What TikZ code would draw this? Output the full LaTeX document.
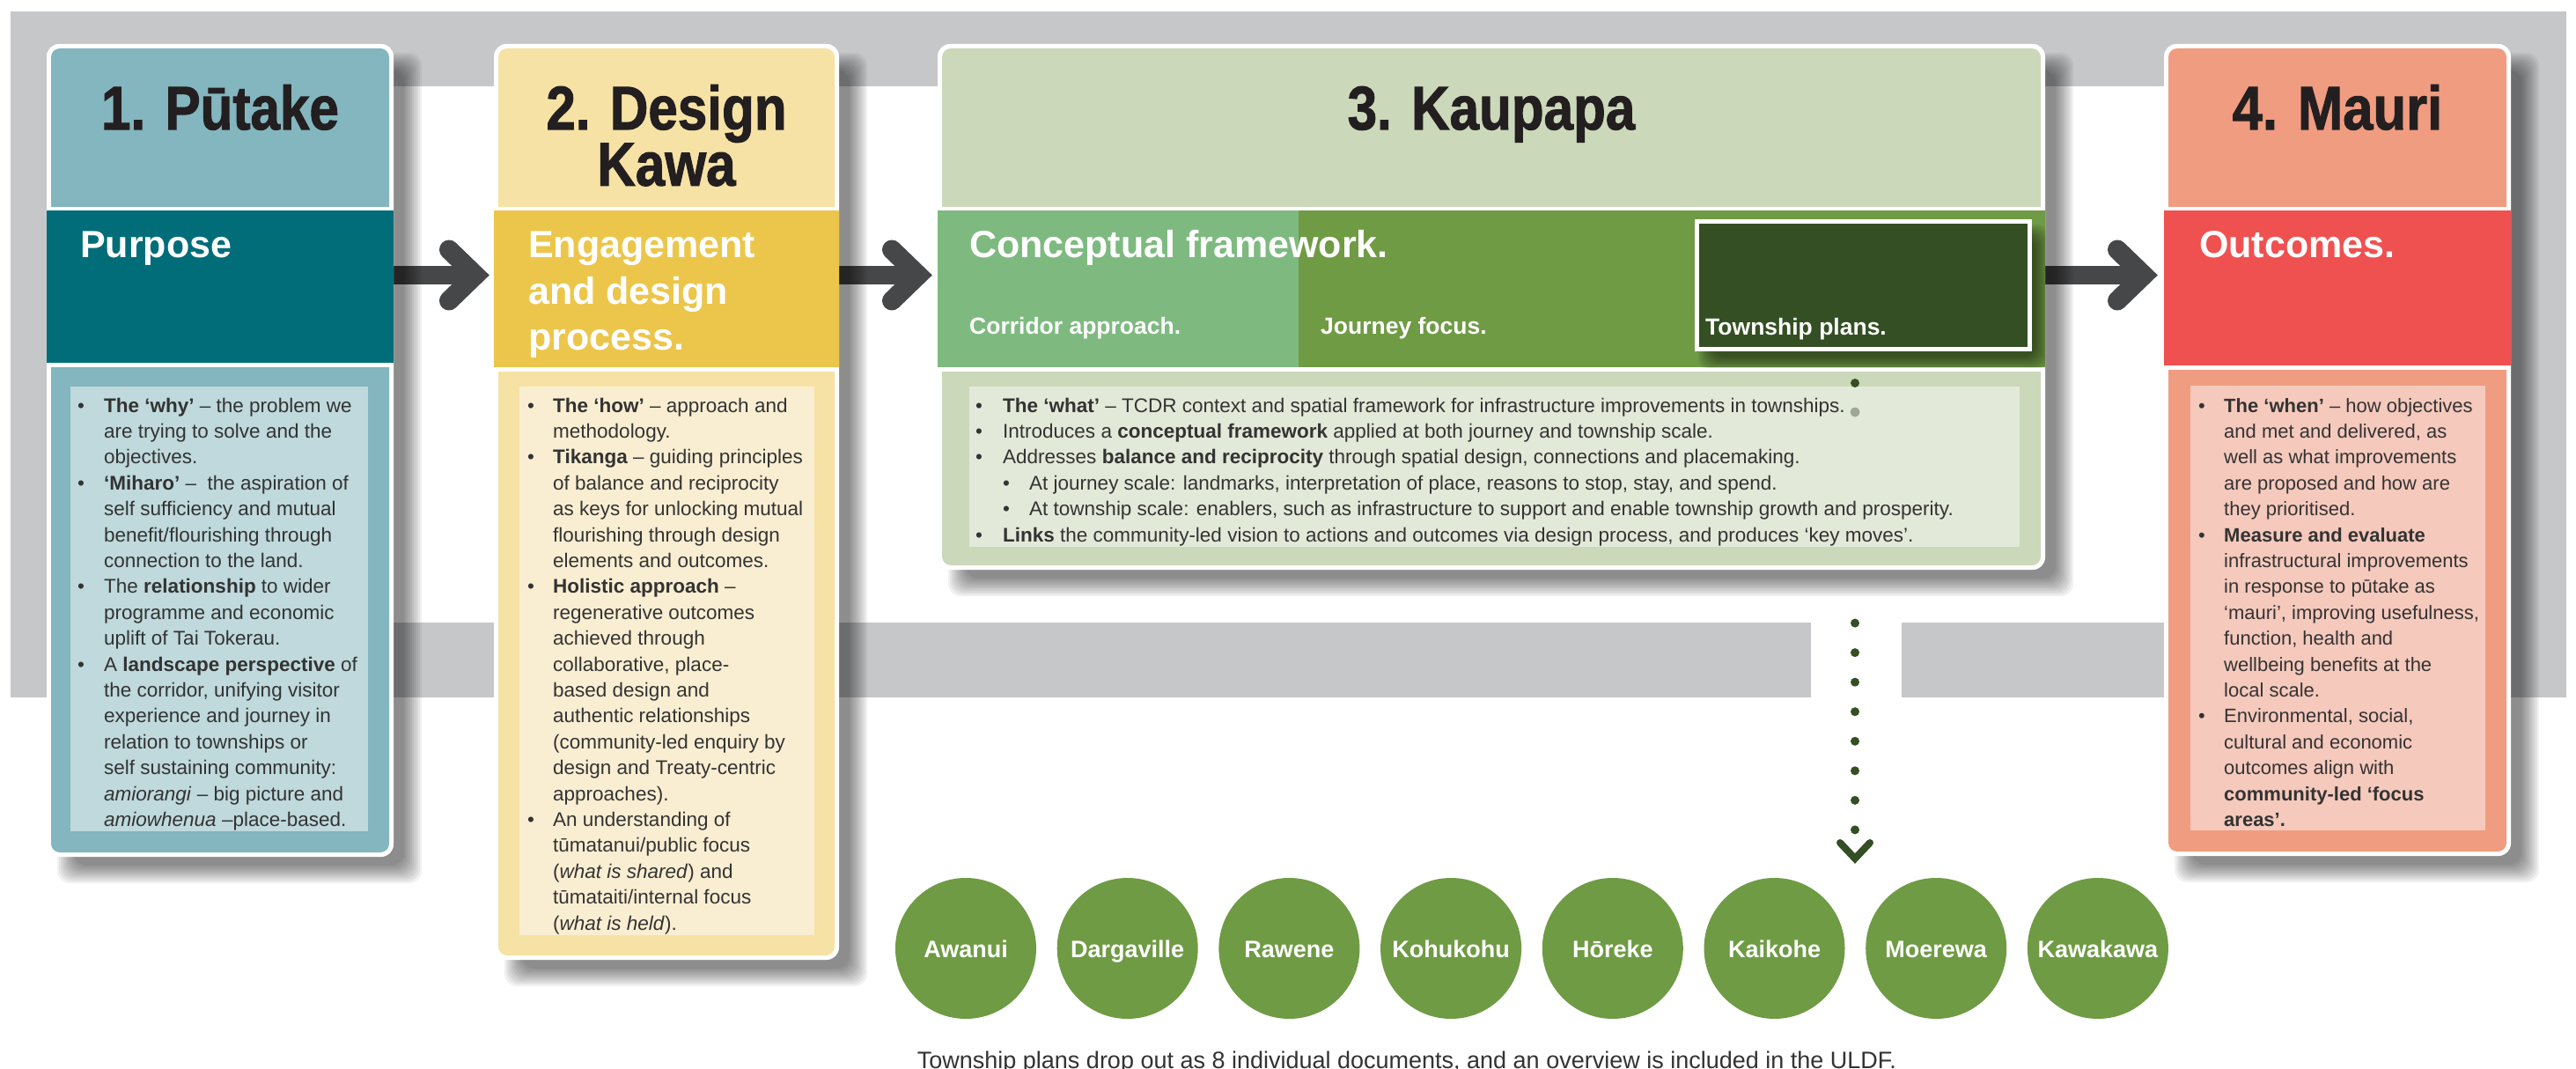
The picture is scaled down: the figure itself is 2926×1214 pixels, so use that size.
\documentclass[tikz,border=0pt]{standalone}
\usepackage{fontspec}
\setmainfont{Liberation Sans}
\newfontfamily\heavyfont[BoldFeatures={FakeBold=1.6}]{Liberation Sans}
\usepackage{graphicx}
\usetikzlibrary{calc}
\definecolor{bggray}{HTML}{C6C7C9}
\definecolor{tealhead}{HTML}{83B6BE}
\definecolor{tealband}{HTML}{006D79}
\definecolor{tealinner}{HTML}{BFD9DC}
\definecolor{yelhead}{HTML}{F6E2A4}
\definecolor{yelband}{HTML}{ECC64B}
\definecolor{yelinner}{HTML}{FAEED2}
\definecolor{grnhead}{HTML}{CBD8BA}
\definecolor{grnlight}{HTML}{7EBA80}
\definecolor{grnmid}{HTML}{6F9B44}
\definecolor{grndark}{HTML}{344F23}
\definecolor{grninner}{HTML}{E3E9D8}
\definecolor{redhead}{HTML}{F09C80}
\definecolor{redband}{HTML}{EF5150}
\definecolor{redinner}{HTML}{F5C9BC}
\definecolor{arrowgray}{HTML}{464749}
\definecolor{titleink}{HTML}{231F20}
\definecolor{bodyink}{HTML}{333333}
\definecolor{dotfaint}{HTML}{9DA894}

\newcommand\softshadow[6]{% x1 y1 x2 y2 blur opacity
  \foreach \k in {0,...,9}{%
    \fill[black,fill opacity=#6,rounded corners=14pt]
      ({#1-#5+0.2222*#5*\k},{#2-#5+0.2222*#5*\k}) rectangle
      ({#3+#5-0.2222*#5*\k},{#4+#5-0.2222*#5*\k});}}
\newcommand\phasebox[6]{% x1 x2 bandbottom bottom headcolour bandcolour
  \fill[white,rounded corners=14pt] (#1,50) rectangle (#2,#4);
  \fill[#5,rounded corners=10pt] (#1+5,55) rectangle (#2-5,280);
  \fill[#5,rounded corners=10pt] (#1+5,#3-40) rectangle (#2-5,#4-5);
  \fill[white] (#1,235) rectangle (#2,239);
  \fill[#6] (#1,239) rectangle (#2,#3);
  \fill[white] (#1,#3) rectangle (#2,#3+5);}
\newcommand\bodyset{\fontsize{22.5}{29.4}\selectfont\color{bodyink}}

\tikzset{
  shaft/.style={arrowgray,line width=21pt},
  chev/.style={arrowgray,line width=22pt,line cap=round,line join=miter},
  titlenode/.style={anchor=base,inner sep=0pt,text=titleink,font=\heavyfont\fontsize{70}{52}\selectfont\bfseries},
  bandlbl/.style={anchor=base west,inner sep=0pt,text=white,font=\fontsize{43}{52.5}\selectfont\bfseries},
  smalllbl/.style={anchor=base west,inner sep=0pt,text=white,font=\fontsize{26.5}{30}\selectfont\bfseries},
  bodynode/.style={anchor=base west,inner sep=0pt},
  town/.style={circle,fill=grnmid,minimum size=160pt,inner sep=0pt,text height=20pt,text depth=0pt,text=white,font=\fontsize{27}{30}\selectfont\bfseries},
  dotline/.style={grndark,line width=10pt,line cap=round,dash pattern=on 0pt off 33.54pt},
}

\begin{document}
\begin{tikzpicture}[x={(1pt,0)},y={(0,-1pt)}]
\useasboundingbox (0,0) rectangle (2926,1214);
\fill[white] (0,0) rectangle (2926,1214);
% grey frame
\fill[bggray] (12,13) rectangle (2915,792);
\fill[white] (53,98) rectangle (2852,707);
\fill[white] (2057,700) rectangle (2160,795);

% arrows
\coordinate (b1r) at (447,312.5); \coordinate (a1) at (540,312.5);
\coordinate (b2r) at (953,312.5); \coordinate (a2) at (1043,312.5);
\coordinate (b3r) at (2323,312.5); \coordinate (a3) at (2435,312.5);
\foreach \s/\t in {b1r/a1,b2r/a2,b3r/a3}{
  \draw[shaft] (\s) -- (\t);
  \draw[chev] ($(\t)+(-30,-29)$) -- (\t) -- ($(\t)+(-30,29)$);
}

% shadows
\softshadow{75}{70}{469}{993}{10}{0.055}
\softshadow{583}{70}{975}{1110}{10}{0.055}
\softshadow{1087}{70}{2345}{667}{10}{0.055}
\softshadow{2480}{70}{2874}{992}{10}{0.055}

% boxes
\phasebox{53}{447}{412}{973}{tealhead}{tealband}
\phasebox{561}{953}{417}{1090}{yelhead}{yelband}
\phasebox{1065}{2323}{417}{647}{grnhead}{grnmid}
\phasebox{2458}{2852}{415}{972}{redhead}{redband}
\fill[grnlight] (1065,239) rectangle (1475,417);

% township plans box
\begin{scope}
  \clip (1065,239) rectangle (2323,417);
  \softshadow{1937}{263}{2320}{413}{8}{0.06}
\end{scope}
\fill[white] (1925,249) rectangle (2308,399);
\fill[grndark] (1930,254) rectangle (2303,394);

% inner panels
\fill[tealinner] (80,439) rectangle (418,944);
\fill[yelinner] (590,439) rectangle (925,1062);
\fill[grninner] (1101,439) rectangle (2294,621);
\fill[redinner] (2488,438) rectangle (2823,943);

% dots at top of connector
\coordinate (d0) at (2107,435);
\coordinate (d1) at (2107,468);
\fill[grndark] (d0) circle (5pt);
\fill[dotfaint] (d1) circle (5.5pt);

% titles
\node[titlenode] (t1) at (250,147) {\scalebox{0.86}[1]{1. Pūtake}};
\node[titlenode] (t2) at (757,147) {\scalebox{0.86}[1]{\begin{tabular}[t]{@{}c@{}}2. Design\\Kawa\end{tabular}}};
\node[titlenode] (t3) at (1694,147) {\scalebox{0.86}[1]{3. Kaupapa}};
\node[titlenode] (t4) at (2655,147) {\scalebox{0.88}[1]{4. Mauri}};

% band labels
\node[bandlbl] (l1) at (91,293) {Purpose};
\node[bandlbl] (l2) at (600,293) {\begin{tabular}[t]{@{}l@{}}Engagement\\and design\\process.\end{tabular}};
\node[bandlbl] (l3) at (1101,293) {Conceptual framework.};
\node[bandlbl] (l4) at (2498,293) {Outcomes.};
\node[smalllbl] (s1) at (1101,380) {Corridor approach.};
\node[smalllbl] (s2) at (1500,380) {Journey focus.};
\node[smalllbl] (s3) at (1937,381) {Township plans.};

% body texts
\node[bodynode] (x1) at (88,468) {\bodyset\begin{tabular}[t]{@{}p{30pt}@{}l@{}}
\textbullet & \textbf{The ‘why’} – the problem we\\
 & are trying to solve and the\\
 & objectives.\\
\textbullet & \textbf{‘Miharo’} –\ \ the aspiration of\\
 & self sufficiency and mutual\\
 & benefit/flourishing through\\
 & connection to the land.\\
\textbullet & The \textbf{relationship} to wider\\
 & programme and economic\\
 & uplift of Tai Tokerau.\\
\textbullet & A \textbf{landscape perspective} of\\
 & the corridor, unifying visitor\\
 & experience and journey in\\
 & relation to townships or\\
 & self sustaining community:\\
 & \textit{amiorangi} – big picture and\\
 & \textit{amiowhenua} –place-based.
\end{tabular}};

\node[bodynode] (x2) at (599,468) {\bodyset\begin{tabular}[t]{@{}p{29pt}@{}l@{}}
\textbullet & \textbf{The ‘how’} – approach and\\
 & methodology.\\
\textbullet & \textbf{Tikanga} – guiding principles\\
 & of balance and reciprocity\\
 & as keys for unlocking mutual\\
 & flourishing through design\\
 & elements and outcomes.\\
\textbullet & \textbf{Holistic approach} –\\
 & regenerative outcomes\\
 & achieved through\\
 & collaborative, place-\\
 & based design and\\
 & authentic relationships\\
 & (community-led enquiry by\\
 & design and Treaty-centric\\
 & approaches).\\
\textbullet & An understanding of\\
 & tūmatanui/public focus\\
 & (\textit{what is shared}) and\\
 & tūmataiti/internal focus\\
 & (\textit{what is held}).
\end{tabular}};

\node[bodynode] (x3) at (1108,468) {\bodyset\begin{tabular}[t]{@{}p{31pt}@{}p{30pt}@{}l@{}}
\textbullet & \multicolumn{2}{@{}l@{}}{\textbf{The ‘what’} – TCDR context and spatial framework for infrastructure improvements in townships.}\\
\textbullet & \multicolumn{2}{@{}l@{}}{Introduces a \textbf{conceptual framework} applied at both journey and township scale.}\\
\textbullet & \multicolumn{2}{@{}l@{}}{Addresses \textbf{balance and reciprocity} through spatial design, connections and placemaking.}\\
 & \textbullet & At journey scale: landmarks, interpretation of place, reasons to stop, stay, and spend.\\
 & \textbullet & At township scale: enablers, such as infrastructure to support and enable township growth and prosperity.\\
\textbullet & \multicolumn{2}{@{}l@{}}{\textbf{Links} the community-led vision to actions and outcomes via design process, and produces ‘key moves’.}
\end{tabular}};

\node[bodynode] (x4) at (2497,468) {\bodyset\fontsize{22}{29.4}\selectfont\begin{tabular}[t]{@{}p{29pt}@{}l@{}}
\textbullet & \textbf{The ‘when’} – how objectives\\
 & and met and delivered, as\\
 & well as what improvements\\
 & are proposed and how are\\
 & they prioritised.\\
\textbullet & \textbf{Measure and evaluate}\\
 & infrastructural improvements\\
 & in response to pūtake as\\
 & ‘mauri’, improving usefulness,\\
 & function, health and\\
 & wellbeing benefits at the\\
 & local scale.\\
\textbullet & Environmental, social,\\
 & cultural and economic\\
 & outcomes align with\\
 & \textbf{community-led ‘focus}\\
 & \textbf{areas’.}
\end{tabular}};

% dotted connector to townships
\coordinate (dtop) at (2107,707.6);
\coordinate (dbot) at (2107,942.4);
\coordinate (vtip) at (2107,975);
\draw[dotline] (dtop) -- (dbot);
\draw[grndark,line width=8pt,line cap=round,line join=miter] ($(vtip)+(-17,-18)$) -- (vtip) -- ($(vtip)+(17,-18)$);

% township circles
\foreach \nm [count=\i from 0] in {Awanui,Dargaville,Rawene,Kohukohu,Hōreke,Kaikohe,Moerewa,Kawakawa}
  \node[town] (c\i) at ({1097+183.7*\i},1077) {\nm};

% footer
\node[anchor=base,inner sep=0pt,text=bodyink,font=\fontsize{27}{30}\selectfont] (foot) at (1598,1213)
  {Township plans drop out as 8 individual documents, and an overview is included in the ULDF.};
\end{tikzpicture}
\end{document}
